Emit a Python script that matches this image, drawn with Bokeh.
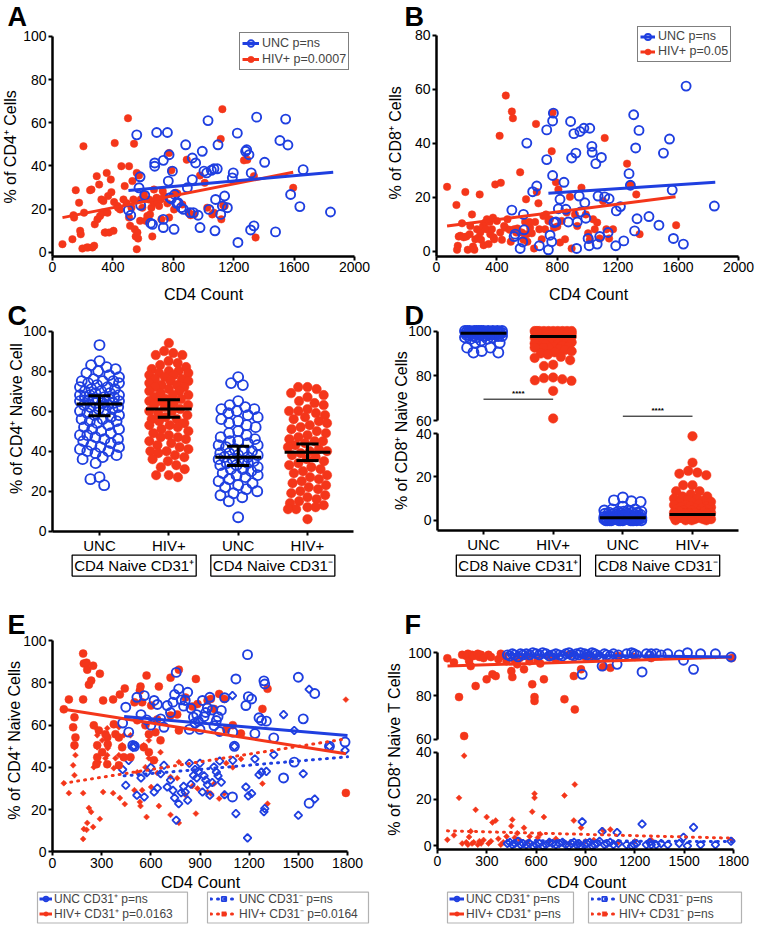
import numpy as np
from bokeh.plotting import figure
from bokeh.models import Range1d, LinearAxis, FixedTicker, Label, Legend, LegendItem, BoxAnnotation
from bokeh.core.properties import value
from bokeh.embed import file_html
from bokeh.resources import INLINE

# ======================= DATA =======================
# Panel A : % of CD4+ cells vs CD4 count
A_unc_cd4 = [503, 518, 558, 580, 573, 584, 611, 650, 662, 677, 677, 690, 734, 734, 734, 761, 767, 772, 778, 787,
             794, 805, 809, 822, 831, 853, 867, 882, 893, 911, 926, 926, 933, 948, 964, 977, 992, 1003, 1021, 1030,
             1036, 1052, 1069, 1076, 1080, 1091, 1096, 1114, 1125, 1140, 1158, 1191, 1197, 1224, 1228, 1279, 1286,
             1301, 1312, 1316, 1334, 1352, 1405, 1477, 1506, 1544, 1559, 1577, 1638, 1660, 1841]
A_unc_pct = [19.6, 17.2, 54.4, 35.0, 29.9, 21.8, 26.4, 13.5, 13.0, 41.4, 39.9, 55.5, 42.6, 15.3, 11.5, 55.5, 33.0,
             45.2, 25.3, 24.8, 37.6, 10.7, 26.8, 22.7, 23.0, 20.7, 19.9, 49.8, 29.9, 18.4, 43.7, 33.7, 18.4, 41.4,
             17.2, 11.5, 46.8, 37.6, 36.8, 61.0, 19.9, 38.0, 38.7, 10.0, 24.5, 38.7, 49.8, 17.6, 21.5, 26.1, 20.7,
             34.5, 36.8, 55.2, 4.6, 46.8, 47.5, 45.2, 10.4, 36.8, 12.3, 62.6, 41.7, 9.5, 51.8, 61.7, 49.7, 26.8,
             21.2, 38.3, 18.7]
A_hiv_cd4 = [66, 132, 139, 143, 154, 176, 183, 187, 198, 205, 209, 227, 236, 249, 258, 265, 276, 280, 293, 298,
             309, 315, 324, 331, 337, 346, 353, 359, 364, 368, 375, 386, 390, 404, 408, 412, 430, 434, 448, 456,
             470, 478, 492, 500, 507, 507, 514, 523, 529, 536, 540, 545, 551, 558, 562, 567, 558, 573, 580, 584,
             595, 606, 611, 617, 628, 639, 646, 655, 661, 668, 672, 677, 686, 690, 695, 706, 717, 721, 730, 739,
             761, 772, 772, 787, 805, 816, 827, 860, 889, 904, 915, 937, 977, 1008, 1025, 1058, 1069, 1118, 1125,
             1114, 1131, 1140, 1268, 1290, 1334, 1345, 1594]
A_hiv_pct = [3.8, 6.1, 17.2, 16.1, 28.8, 23.0, 10.0, 8.4, 1.8, 49.1, 18.4, 2.3, 2.3, 28.8, 29.1, 2.3, 3.1, 13.0,
             35.3, 15.3, 31.4, 16.9, 24.5, 18.4, 23.8, 9.2, 9.2, 36.8, 18.4, 26.1, 9.2, 33.7, 27.9, 10.0, 23.3,
             50.6, 21.5, 20.7, 19.9, 39.9, 24.5, 30.7, 22.7, 62.1, 16.1, 39.9, 12.3, 20.7, 33.0, 24.5, 50.3, 10.7,
             7.4, 36.8, 9.2, 6.4, 1.5, 35.6, 14.6, 24.5, 20.7, 26.8, 24.8, 14.6, 16.9, 24.5, 17.6, 20.7, 7.4, 23.3,
             29.1, 23.0, 24.8, 25.3, 23.0, 21.5, 24.5, 15.3, 28.4, 26.1, 22.7, 16.1, 46.0, 38.0, 19.9, 27.6, 27.3,
             22.2, 42.9, 18.4, 17.2, 17.6, 35.6, 32.2, 20.7, 17.6, 18.4, 15.3, 66.3, 52.5, 21.8, 21.5, 42.6, 42.9,
             35.3, 6.9, 29.9]
A_unc_fit_x = [503, 1859]
A_unc_fit_y = [28.7, 37.1]
A_hiv_fit_x = [66, 1594]
A_hiv_fit_y = [16.1, 37.1]
A_xticks = [0, 400, 800, 1200, 1600, 2000]
A_yticks = [0, 20, 40, 60, 80, 100]

# Panel B : % of CD8+ cells vs CD4 count
B_unc_cd4 = [499, 514, 521, 554, 571, 576, 580, 598, 637, 664, 681, 730, 730, 741, 752, 763, 769, 769, 774, 778,
             791, 807, 818, 844, 857, 873, 888, 895, 910, 923, 928, 932, 945, 950, 954, 976, 982, 989, 1004, 1011,
             1015, 1029, 1031, 1055, 1064, 1070, 1081, 1092, 1114, 1136, 1143, 1187, 1191, 1218, 1240, 1275, 1284,
             1306, 1312, 1319, 1328, 1341, 1407, 1473, 1503, 1543, 1561, 1569, 1635, 1653, 1840]
B_unc_pct = [15.3, 5.5, 6.4, 1.1, 3.5, 13.7, 8.0, 40.1, 22.1, 24.2, 2.1, 34.0, 45.0, 0.6, 6.0, 3.6, 48.3, 28.1,
             51.2, 10.7, 10.9, 15.8, 19.3, 25.6, 15.6, 10.9, 48.1, 34.6, 43.6, 36.4, 1.1, 10.9, 20.5, 44.4, 14.6,
             45.6, 18.0, 12.3, 4.8, 2.1, 45.6, 38.9, 36.7, 32.5, 2.7, 20.5, 5.5, 34.8, 20.2, 7.0, 19.5, 2.1, 15.0,
             16.6, 3.9, 28.8, 24.5, 50.6, 7.6, 38.3, 12.1, 44.8, 12.9, 9.7, 36.4, 41.6, 22.7, 4.8, 2.7, 61.2, 16.8]
B_hiv_cd4 = [70, 132, 136, 141, 147, 158, 169, 180, 191, 198, 207, 220, 224, 235, 242, 251, 257, 268, 279, 286,
             290, 295, 308, 312, 323, 330, 334, 345, 352, 356, 367, 374, 378, 382, 389, 400, 418, 422, 426, 433,
             448, 455, 459, 470, 484, 492, 499, 506, 514, 528, 536, 554, 565, 576, 587, 593, 598, 602, 615, 620,
             631, 646, 653, 659, 664, 675, 681, 697, 708, 719, 725, 741, 752, 763, 769, 778, 791, 800, 807, 818,
             829, 851, 862, 884, 895, 917, 932, 960, 989, 1004, 1015, 1037, 1048, 1064, 1081, 1103, 1114, 1125,
             1143, 1169, 1262, 1284, 1323, 1345, 1587]
B_hiv_pct = [23.9, 17.2, 0.6, 2.1, 5.5, 5.8, 10.4, 5.2, 22.0, 5.5, 0.6, 6.4, 9.4, 13.7, 1.8, 0.6, 4.5, 8.2, 5.2,
             21.1, 7.0, 4.3, 9.4, 2.3, 10.7, 8.2, 11.9, 2.7, 10.9, 6.4, 8.2, 12.5, 5.2, 4.5, 24.8, 11.3, 42.8, 7.0,
             25.4, 4.3, 9.4, 8.8, 57.7, 11.9, 8.0, 3.6, 51.8, 49.3, 8.2, 7.0, 8.5, 29.3, 7.0, 4.3, 10.9, 19.3, 6.4,
             3.6, 10.9, 8.8, 6.7, 1.1, 10.9, 47.2, 22.0, 17.8, 8.2, 4.5, 13.1, 8.2, 13.7, 11.3, 11.9, 37.1, 51.4,
             8.8, 25.6, 9.2, 22.9, 3.3, 11.3, 4.5, 14.4, 20.2, 1.1, 13.7, 9.4, 23.6, 13.7, 6.7, 4.3, 11.9, 8.2,
             10.7, 4.8, 18.7, 42.0, 8.2, 4.8, 8.2, 32.5, 24.8, 21.1, 6.4, 9.7]
B_unc_fit_x = [741, 1846]
B_unc_fit_y = [21.5, 25.6]
B_hiv_fit_x = [70, 1583]
B_hiv_fit_y = [9.4, 20.2]
B_xticks = [0, 400, 800, 1200, 1600, 2000]
B_yticks = [0, 20, 40, 60, 80]

# Panel C : % of CD4+ naive cells by group
C_groups = ["UNC", "HIV+", "UNC", "HIV+"]
C_boxes = ["CD4 Naive CD31\u207a", "CD4 Naive CD31\u207b"]
C_unc_pos = [93, 85, 83, 82, 81, 80, 79, 78, 77, 76, 75, 75, 75, 74, 74, 73, 72, 72, 71, 71, 70, 70, 69, 69, 68,
             68, 68, 67, 67, 67, 66, 66, 66, 65, 65, 65, 64, 64, 64, 63, 63, 62, 62, 61, 61, 60, 60, 59, 58, 58,
             57, 56, 56, 55, 55, 54, 53, 52, 51, 51, 50, 49, 48, 48, 47, 46, 46, 45, 44, 43, 42, 42, 41, 40, 40,
             39, 38, 37, 36, 34, 27, 26, 23]
C_hiv_pos = [94, 90, 89, 88, 88, 85, 84, 83, 82, 81, 80, 80, 79, 79, 78, 78, 77, 76, 76, 75, 75, 74, 73, 73, 72,
             72, 71, 70, 70, 69, 68, 68, 67, 66, 66, 65, 65, 64, 63, 63, 62, 61, 60, 60, 59, 58, 57, 56, 56, 55,
             54, 53, 53, 52, 51, 50, 49, 48, 47, 47, 46, 45, 44, 43, 42, 41, 40, 40, 39, 38, 37, 36, 35, 33, 32,
             31, 28, 28, 27]
C_unc_neg = [77, 74, 73, 65, 63, 62, 61, 61, 60, 59, 58, 57, 56, 55, 54, 53, 52, 50, 49, 48, 47, 46, 45, 45, 44,
             43, 43, 42, 41, 40, 40, 39, 39, 38, 38, 37, 37, 36, 36, 35, 35, 34, 34, 33, 33, 32, 31, 31, 30, 29,
             28, 28, 27, 26, 25, 24, 23, 22, 21, 20, 19, 18, 17, 15, 7]
C_hiv_neg = [72, 72, 71, 69, 68, 67, 65, 64, 63, 61, 60, 60, 59, 58, 57, 56, 55, 54, 53, 52, 51, 50, 49, 48, 47,
             46, 45, 45, 44, 43, 42, 41, 40, 40, 39, 38, 37, 36, 35, 34, 33, 32, 31, 30, 29, 28, 27, 26, 25, 24,
             23, 22, 21, 20, 19, 18, 17, 16, 15, 14, 13, 12, 12, 11, 11, 6]
C_mean = [63.5, 61.0, 37.0, 39.5]
C_ci_lo = [57.7, 56.9, 32.8, 35.3]
C_ci_hi = [67.7, 65.7, 42.5, 43.6]
C_yticks = [0, 20, 40, 60, 80, 100]

# Panel D : % of CD8+ naive cells by group (broken axis)
D_groups = ["UNC", "HIV+", "UNC", "HIV+"]
D_boxes = ["CD8 Naive CD31\u207a", "CD8 Naive CD31\u207b"]
D_unc_pos = [100, 100, 100, 100, 100, 100, 100, 100, 100, 100, 100, 100, 99.6, 99.6, 99.6, 99.6, 99.6, 99.6,
             99.6, 99.6, 99.2, 99.2, 99.2, 99.2, 99.2, 99.2, 99.2, 99.2, 99.2, 99.2, 98.8, 98.8, 98.8, 98.8, 98.8,
             98.8, 98.3, 98.3, 98.3, 98.3, 98.3, 98.3, 97.8, 97.8, 97.8, 97.8, 97.2, 97.2, 97.2, 96.5, 96.5, 95.8,
             94.8, 94.8, 92.6, 92.6, 91.1, 90.4, 90.4]
D_hiv_pos = [100, 100, 100, 100, 100, 100, 100, 100, 100, 100, 99.5, 99.5, 99.5, 99.5, 99.5, 99.5, 99.5, 99.5,
             99, 99, 99, 99, 99, 99, 99, 99, 98.5, 98.5, 98.5, 98.5, 98.5, 98.5, 98, 98, 98, 98, 98, 98, 97.5,
             97.5, 97.5, 97.5, 97.5, 97, 97, 97, 97, 96.5, 96.5, 96.5, 96.5, 96, 96, 96, 95.5, 95.5, 95.5, 95, 95,
             95, 94.5, 94.5, 94, 94, 93.5, 93, 93, 92.6, 92.6, 92.6, 92.6, 92, 91.5, 91, 90.5, 90, 89.5, 88.5, 88,
             87, 85, 84.4, 79.3, 79, 78.5, 78, 77.8, 73.3, 61]
D_unc_neg = [0, 0, 0, 0, 0, 0, 0, 0, 0, 0, 0, 0, 0.5, 0.5, 0.5, 0.5, 0.5, 0.5, 0.5, 0.5, 0.5, 0.5, 1, 1, 1, 1, 1,
             1, 1, 1, 1, 1, 1.5, 1.5, 1.5, 1.5, 1.5, 1.5, 1.5, 1.5, 2, 2, 2, 2, 2, 2, 2.5, 2.5, 2.5, 2.5, 2.5, 3,
             3, 3, 3, 3.5, 3.5, 3.5, 4, 4, 4, 4.5, 4.5, 5, 5, 6.2, 8.5, 8.8, 9.2, 10.5]
D_hiv_neg = [38.8, 26.6, 22.8, 22, 21.5, 20.8, 16.2, 16.2, 13.4, 13.4, 12, 11, 11, 10, 10, 9.5, 9, 8.5, 8, 8, 7.5,
             7, 7, 6.5, 6.5, 6, 6, 5.5, 5.5, 5, 5, 5, 4.5, 4.5, 4, 4, 4, 3.5, 3.5, 3.5, 3, 3, 3, 2.5, 2.5, 2.5, 2,
             2, 2, 2, 1.5, 1.5, 1.5, 1, 1, 1, 1, 0.5, 0.5, 0.5, 0, 0, 0, 0]
D_median = [99.0, 97.6, 1.1, 2.6]
D_sig_x0 = [0, 2]
D_sig_x1 = [1, 3]
D_sig_y = [69.6, 62.0]
D_top_ticks = [60, 80, 100]
D_bot_ticks = [0, 20, 40]

# Panel E : % of CD4+ naive cells (CD31+ / CD31-) vs CD4 count
E_unc_cd4 = [428, 447, 465, 490, 500, 515, 540, 560, 575, 600, 620, 640, 660, 680, 700, 720, 735, 745, 755, 770,
             785, 800, 810, 825, 835, 845, 860, 870, 880, 890, 900, 915, 925, 935, 945, 960, 975, 985, 1000, 1010,
             1020, 1030, 1050, 1098, 1100, 1110, 1119, 1180, 1190, 1195, 1215, 1235, 1260, 1275, 1290, 1295, 1305,
             1350, 1410, 1475, 1500, 1530, 1566, 1600, 1690, 1785]
E_unc_pos = [61, 68.5, 56.7, 50.4, 50, 73.2, 65, 74, 62.5, 60, 71.7, 69.8, 63, 59, 69.3, 66, 70.9, 74.5, 85, 77.2,
             72, 69, 71.7, 75.6, 58, 68, 63.8, 61, 65, 61.9, 58, 71.7, 64, 66, 68.2, 73.2, 67.2, 59.8, 62.2, 64,
             57, 67, 73, 26, 56.7, 50, 81.9, 69.3, 93.4, 73.5, 72.4, 56, 63.5, 62.2, 81, 79.5, 61.9, 54, 35, 42.5,
             82.7, 63, 23, 75, 50, 52]
E_unc_neg = [39, 31.5, 43.3, 49.6, 50, 26.8, 35, 26, 37.5, 40, 28.3, 30.2, 37, 41, 30.7, 34, 29.1, 25.5, 15, 22.8,
             28, 31, 28.3, 24.4, 42, 32, 36.2, 39, 35, 38.1, 42, 28.3, 36, 34, 31.8, 26.8, 32.8, 40.2, 37.8, 36,
             43, 33, 27, 74, 43.3, 50, 18.1, 30.7, 6.6, 26.5, 27.6, 44, 36.5, 37.8, 19, 20.5, 38.1, 46, 65, 57.5,
             17.3, 37, 77, 25, 50, 48]
E_hiv_cd4 = [69, 100, 126, 134, 134, 140, 187, 187, 191, 208, 212, 222, 236, 248, 252, 268, 273, 273, 283, 289,
             303, 309, 323, 334, 334, 337, 370, 374, 384, 405, 405, 411, 425, 435, 441, 476, 500, 517, 533, 537,
             547, 557, 567, 574, 588, 588, 602, 618, 628, 639, 649, 659, 720, 720, 761, 771, 771, 811, 854, 875,
             885, 946, 966, 986, 1017, 1048, 1060, 1100, 1150, 1281, 1312, 1790]
E_hiv_pos = [67.5, 72.2, 59, 63.7, 50.5, 54.2, 93.9, 72.2, 89.2, 89.6, 86.3, 79.2, 81.1, 88.2, 59.9, 41.5, 50.5,
             44.8, 57.5, 84.4, 47.2, 71.7, 55.7, 54.2, 41.5, 50.9, 72.2, 60.4, 55.7, 54.2, 41, 74.5, 49.5, 44.8,
             77.4, 44.8, 70.8, 62.3, 76.4, 78.3, 70.8, 49.5, 59.9, 83.5, 55.7, 47.2, 69.3, 43.4, 56.6, 62.7, 78.3,
             52.8, 82.5, 64.6, 65.1, 86.3, 57.5, 73.1, 68.8, 81.9, 70, 71.7, 72.4, 67.7, 74.8, 72.4, 58, 60, 56,
             67.7, 77.2, 27.9]
E_hiv_neg = [32.5, 27.8, 41, 36.3, 49.5, 45.8, 6.1, 27.8, 10.8, 10.4, 13.7, 20.8, 18.9, 11.8, 40.1, 58.5, 49.5,
             55.2, 42.5, 15.6, 52.8, 28.3, 44.3, 45.8, 58.5, 49.1, 27.8, 39.6, 44.3, 45.8, 59, 25.5, 50.5, 55.2,
             22.6, 55.2, 29.2, 37.7, 23.6, 21.7, 29.2, 50.5, 40.1, 16.5, 44.3, 52.8, 30.7, 56.6, 43.4, 37.3, 21.7,
             47.2, 17.5, 35.4, 34.9, 13.7, 42.5, 26.9, 31.2, 18.1, 30, 28.3, 27.6, 32.3, 25.2, 27.6, 42, 40, 44,
             32.3, 22.8, 72.1]
E_unc_pos_fit_x = [437, 1800]
E_unc_pos_fit_y = [64.1, 55.1]
E_hiv_pos_fit_x = [69, 1790]
E_hiv_pos_fit_y = [67.5, 46.5]
E_unc_neg_fit_x = [437, 1800]
E_unc_neg_fit_y = [36.0, 45.0]
E_hiv_neg_fit_x = [69, 1790]
E_hiv_neg_fit_y = [32.5, 53.5]
E_xticks = [0, 300, 600, 900, 1200, 1500, 1800]
E_yticks = [0, 20, 40, 60, 80, 100]

# Panel F : % of CD8+ naive T cells (CD31+ / CD31-) vs CD4 count (broken axis)
F_unc_cd4 = [425, 440, 455, 470, 490, 505, 520, 540, 560, 580, 600, 620, 640, 660, 680, 700, 720, 740, 760, 780,
             800, 815, 830, 845, 860, 870, 880, 895, 910, 925, 940, 955, 970, 985, 1001, 1015, 1030, 1050, 1070,
             1092, 1100, 1150, 1180, 1195, 1210, 1244, 1270, 1290, 1300, 1330, 1360, 1400, 1470, 1496, 1520, 1557,
             1600, 1690, 1785]
F_unc_pos = [99, 98.5, 99.5, 99, 98, 99.5, 99, 99.5, 99, 100, 99.5, 99, 100, 99.5, 98.5, 99, 99.5, 99, 98.5, 99.5,
             100, 99, 98.5, 99.5, 99, 100, 90, 99.5, 99, 98.5, 100, 99.5, 99, 98, 93.8, 99.5, 99, 98.5, 99.5, 94.6,
             99, 99.5, 100, 99.5, 99, 91.1, 99.5, 98.5, 99.5, 99.5, 99, 99.5, 99, 96.5, 100, 92.3, 99.5, 99.5, 98]
F_unc_neg = [1, 1.5, 0.5, 1, 2, 0.5, 1, 0.5, 1, 0, 0.5, 1, 0, 0.5, 1.5, 1, 0.5, 1, 1.5, 0.5, 0, 1, 1.5, 0.5, 1, 0,
             10.3, 0.5, 1, 1.5, 0, 0.5, 1, 2, 6.1, 0.5, 1, 1.5, 0.5, 5.7, 1, 0.5, 0, 0.5, 1, 9.3, 0.5, 1.5, 0.5,
             0.5, 1, 0.5, 1, 3.7, 0, 7.9, 0.5, 0.5, 2]
F_hiv_cd4 = [60, 100, 131, 150, 162, 175, 185, 192, 202, 210, 220, 232, 245, 255, 265, 280, 299, 310, 325, 334,
             354, 370, 385, 400, 420, 449, 455, 470, 485, 500, 526, 545, 560, 576, 590, 590, 610, 625, 647, 680,
             720, 772, 800, 829, 835, 873, 900, 950, 1007, 1051, 1100, 1200, 1300, 1790]
F_hiv_pos = [97.4, 95.5, 79.5, 99, 61.5, 98.5, 99.5, 96.2, 93.8, 99, 98.5, 84.6, 99.5, 98, 99, 97.5, 87.7, 99, 98,
             90, 89.2, 97, 99.5, 98.5, 96, 91.5, 88.8, 96.5, 94.6, 97.5, 92.3, 98.5, 96, 85.4, 79.5, 77.7, 96.5, 95,
             87.7, 98, 97, 78.5, 99, 89.2, 73.8, 92.3, 98, 97.5, 93.4, 93, 98.5, 98, 97.5, 97.5]
F_hiv_neg = [2.6, 4.5, 20.5, 1, 38.5, 1.5, 0.5, 3.8, 6.2, 1, 1.5, 15.4, 0.5, 2, 1, 2.5, 12.3, 1, 2, 10, 10.8, 3,
             0.5, 1.5, 4, 8.5, 11.2, 3.5, 5.4, 2.5, 7.7, 1.5, 4, 14.6, 20.5, 22.3, 3.5, 5, 12.3, 2, 3, 21.5, 1,
             10.8, 26.2, 7.7, 2, 2.5, 6.6, 7, 1.5, 2, 2.5, 2.5]
F_unc_pos_fit_x = [425, 1790]
F_unc_pos_fit_y = [99.2, 98.0]
F_hiv_pos_fit_x = [61, 1780]
F_hiv_pos_fit_y = [93.8, 98.0]
F_unc_neg_fit_x = [425, 1790]
F_unc_neg_fit_y = [2.3, 1.8]
F_hiv_neg_fit_x = [61, 1780]
F_hiv_neg_fit_y = [6.4, 3.3]
F_xticks = [0, 300, 600, 900, 1200, 1500, 1800]

# ======================= STYLE / LAYOUT =======================
FONT = "Liberation Sans"
BLUE = "#1f3fe0"
RED = "#f4361a"
FW, FH = 755, 924                # figure size in screen pixels
REF_W, REF_H = 755, 928          # layout units covered by the figure

p = figure(width=FW, height=FH, output_backend="svg", toolbar_location=None,
           x_range=Range1d(0, REF_W), y_range=Range1d(REF_H, 0),
           x_axis_location=None, y_axis_location=None, min_border=0)
p.outline_line_color = None
p.grid.visible = False
p.background_fill_color = "white"

XR, YR = {}, {}


def xmap(name, p0, v0, p1, v1):
    s = (v1 - v0) / (p1 - p0)
    XR[name] = Range1d(start=v0 - p0 * s, end=v0 + (REF_W - p0) * s)
    return lambda px: v0 + (px - p0) * s


def ymap(name, p0, v0, p1, v1):
    s = (v1 - v0) / (p1 - p0)
    YR[name] = Range1d(start=v0 + (REF_H - p0) * s, end=v0 - p0 * s)
    return lambda py: v0 + (py - p0) * s


def axis(side, xn, yn, loc, bounds, ticks, labels=None, fs="14px"):
    ax = LinearAxis(x_range_name=xn, y_range_name=yn, fixed_location=loc, bounds=bounds,
                    ticker=FixedTicker(ticks=ticks, minor_ticks=[]))
    ax.axis_line_width = 2.5
    ax.axis_line_color = "black"
    ax.major_tick_line_width = 2
    ax.major_tick_line_color = "black"
    ax.major_tick_out = 4
    ax.major_tick_in = 0
    ax.minor_tick_line_color = None
    ax.major_label_text_font = FONT
    ax.major_label_text_font_size = fs
    ax.major_label_text_color = "black"
    ax.major_label_standoff = 2
    if labels is not None:
        ax.major_label_overrides = labels
    p.add_layout(ax, side)


def text(x, y, s, size="16px", angle=0.0, align="center", baseline="middle", bold=False,
         xn="default", yn="default", box=False):
    kw = {}
    if box:
        kw = dict(border_line_color="black", border_line_width=1.3, background_fill_color="white", padding=2)
    p.add_layout(Label(x=x, y=y, text=s, x_range_name=xn, y_range_name=yn, text_font=FONT,
                       text_font_size=size, angle=angle, text_align=align, text_baseline=baseline,
                       text_font_style="bold" if bold else "normal", text_color="black", **kw))


def legend(items, left, bottom, glyph_w, glyph_h, spacing, padding=2):
    leg = Legend(items=[LegendItem(label=value(l), renderers=r) for l, r in items],
                 location=(left * FW / REF_W, (REF_H - bottom) * FH / REF_H),
                 orientation="vertical", border_line_color="black", border_line_width=1.2,
                 background_fill_color="white", background_fill_alpha=1.0,
                 padding=padding, spacing=spacing, margin=0, label_text_font=FONT,
                 label_text_font_size="12.5px", label_standoff=3,
                 glyph_width=glyph_w, glyph_height=glyph_h, label_height=12)
    p.add_layout(leg)


def tight_legend(items, box_lr, box_tb, glyph_left, glyph_w, row_centers, row_h=14):
    # framed box with closely spaced rows: one borderless legend per row inside a box
    p.add_layout(BoxAnnotation(left=box_lr[0], right=box_lr[1], top=box_tb[0], bottom=box_tb[1],
                               fill_color="white", fill_alpha=1.0, line_color="black", line_width=1.2))
    for (lab, rs), c in zip(items, row_centers):
        leg = Legend(items=[LegendItem(label=value(lab), renderers=rs)],
                     location=(glyph_left * FW / REF_W, (REF_H - (c + row_h / 2)) * FH / REF_H),
                     border_line_color=None, background_fill_alpha=0.0, padding=0, spacing=0, margin=0,
                     label_text_font=FONT, label_text_font_size="12px", label_standoff=2,
                     glyph_width=glyph_w, glyph_height=11, label_height=11)
        p.add_layout(leg)


def swarm(vals, center, y_px, x_px, d, half_w):
    v = np.asarray(vals, dtype=float)
    order = np.argsort(-v, kind="stable")
    pxs, pys = [], []
    out = np.zeros(len(v))
    grid = np.linspace(-half_w, half_w, 49)
    for i in order:
        y = v[i] * y_px
        ax_ = np.array(pxs)
        ay_ = np.array(pys)
        if len(ax_):
            m = np.abs(ay_ - y) < d
            nx, ny = ax_[m], ay_[m]
        else:
            nx, ny = np.array([]), np.array([])
        cands = [0.0]
        for a, b in zip(nx, ny):
            dx = np.sqrt(max(d * d - (b - y) ** 2, 0.0))
            cands += [a - dx, a + dx]
        cands.sort(key=abs)
        chosen = None
        for c in cands:
            if abs(c) > half_w + 1e-6:
                continue
            if len(nx) == 0 or np.all((c - nx) ** 2 + (y - ny) ** 2 >= d * d - 1e-6):
                chosen = c
                break
        if chosen is None:
            dist = np.array([np.min((g - nx) ** 2 + (y - ny) ** 2) for g in grid])
            chosen = grid[int(np.argmax(dist))]
        pxs.append(chosen)
        pys.append(y)
        out[i] = center + chosen / x_px
    return out


def open_c(x, y, xn, yn, size=9):
    return p.scatter(x, y, x_range_name=xn, y_range_name=yn, marker="circle", size=size,
                     fill_color=None, line_color=BLUE, line_width=1.9)


def fill_c(x, y, xn, yn, size=8):
    return p.scatter(x, y, x_range_name=xn, y_range_name=yn, marker="circle", size=size,
                     fill_color=RED, line_color=RED, line_width=0.5)


def open_d(x, y, xn, yn):
    return p.scatter(x, y, x_range_name=xn, y_range_name=yn, marker="square", angle=np.pi / 4, size=5.5,
                     fill_color=None, line_color=BLUE, line_width=1.8)


def fill_d(x, y, xn, yn):
    return p.scatter(x, y, x_range_name=xn, y_range_name=yn, marker="square", angle=np.pi / 4, size=4.2,
                     fill_color=RED, line_color=RED, line_width=0.5)


def fit(x, y, xn, yn, color, dotted=False):
    kw = dict(line_dash="1 6", line_cap="round") if dotted else {}
    return p.line(x, y, x_range_name=xn, y_range_name=yn, line_color=color, line_width=3, **kw)


# ---------------- Panel A ----------------
axA = xmap("Ax", 52, 0, 354, 2000)
ayA = ymap("Ay", 253, 0, 36, 100)
rAh = fill_c(A_hiv_cd4, A_hiv_pct, "Ax", "Ay", 7.5)
rAu = open_c(A_unc_cd4, A_unc_pct, "Ax", "Ay", 9)
lAh = fit(A_hiv_fit_x, A_hiv_fit_y, "Ax", "Ay", RED)
lAu = fit(A_unc_fit_x, A_unc_fit_y, "Ax", "Ay", BLUE)
axis("below", "Ax", "Ay", ayA(257), (0, 2000), A_xticks)
axis("left", "Ax", "Ay", 0, (ayA(257), 100), A_yticks)
legend([("UNC p=ns", [lAu, rAu]), ("HIV+ p=0.0007", [lAh, rAh])], 239, 70, 17, 16, 0)
text(7, 2, "A", size="27px", align="left", baseline="top", bold=True)
text(10, 147, "% of CD4\u207a Cells", angle=np.pi / 2)
text(203, 295, "CD4 Count")

# ---------------- Panel B ----------------
axB = xmap("Bx", 436, 0, 738, 2000)
ayB = ymap("By", 252, 0, 35, 80)
rBh = fill_c(B_hiv_cd4, B_hiv_pct, "Bx", "By", 7.5)
rBu = open_c(B_unc_cd4, B_unc_pct, "Bx", "By", 9)
lBh = fit(B_hiv_fit_x, B_hiv_fit_y, "Bx", "By", RED)
lBu = fit(B_unc_fit_x, B_unc_fit_y, "Bx", "By", BLUE)
axis("below", "Bx", "By", ayB(257), (0, 2000), B_xticks)
axis("left", "Bx", "By", 0, (ayB(257), 80), B_yticks)
legend([("UNC p=ns", [lBu, rBu]), ("HIV+ p=0.05", [lBh, rBh])], 637, 62, 15, 15, -1)
text(404, 2, "B", size="27px", align="left", baseline="top", bold=True)
text(395, 143, "% of CD8\u207a Cells", angle=np.pi / 2)
text(588, 295, "CD4 Count")

# ---------------- Panel C ----------------
axC = xmap("Cx", 99, 0, 307, 3)
ayC = ymap("Cy", 533, 0, 332, 100)
C_ypx = (533 - 332) / 100.0
C_xpx = (307 - 99) / 3.0
C_series = [C_unc_pos, C_hiv_pos, C_unc_neg, C_hiv_neg]
for gi, vals in enumerate(C_series):
    xs = swarm(vals, gi, C_ypx, C_xpx, 9.3, 19.5)
    if gi % 2 == 0:
        open_c(xs, vals, "Cx", "Cy", 10)
    else:
        fill_c(xs, vals, "Cx", "Cy", 9.5)
C_pos = np.arange(len(C_groups))
p.segment(x0=C_pos - 0.33, x1=C_pos + 0.33, y0=C_mean, y1=C_mean, x_range_name="Cx", y_range_name="Cy",
          line_color="black", line_width=3)
p.segment(x0=C_pos, x1=C_pos, y0=C_ci_lo, y1=C_ci_hi, x_range_name="Cx", y_range_name="Cy",
          line_color="black", line_width=3)
p.segment(x0=C_pos - 0.16, x1=C_pos + 0.16, y0=C_ci_lo, y1=C_ci_lo, x_range_name="Cx", y_range_name="Cy",
          line_color="black", line_width=3)
p.segment(x0=C_pos - 0.16, x1=C_pos + 0.16, y0=C_ci_hi, y1=C_ci_hi, x_range_name="Cx", y_range_name="Cy",
          line_color="black", line_width=3)
axis("below", "Cx", "Cy", 0, (axC(52), axC(353)), list(range(len(C_groups))),
     {i: g for i, g in enumerate(C_groups)}, fs="15px")
axis("left", "Cx", "Cy", axC(52), (0, 100), C_yticks)
for bi, lab in enumerate(C_boxes):
    text(2 * bi + 0.5, 567.5, lab, size="15px", xn="Cx", box=True)
text(7, 302, "C", size="27px", align="left", baseline="top", bold=True)
text(16, 420, "% of CD4\u207a Naive Cell", angle=np.pi / 2)

# ---------------- Panel D ----------------
axD = xmap("Dx", 483, 0, 692, 3)
ayDt = ymap("Dt", 422, 60, 332, 100)
ayDb = ymap("Db", 522, 0, 435, 40)
D_xpx = (692 - 483) / 3.0
D_series = [(D_unc_pos, "Dt", (422 - 332) / 40.0), (D_hiv_pos, "Dt", (422 - 332) / 40.0),
            (D_unc_neg, "Db", (522 - 435) / 40.0), (D_hiv_neg, "Db", (522 - 435) / 40.0)]
for gi, (vals, yn, ypx) in enumerate(D_series):
    xs = swarm(vals, gi, ypx, D_xpx, 9.3, 18.5)
    if gi % 2 == 0:
        open_c(xs, vals, "Dx", yn, 10)
    else:
        fill_c(xs, vals, "Dx", yn, 9.5)
D_pos = np.arange(len(D_groups))
p.segment(x0=D_pos[:2] - 0.33, x1=D_pos[:2] + 0.33, y0=D_median[:2], y1=D_median[:2],
          x_range_name="Dx", y_range_name="Dt", line_color="black", line_width=3)
p.segment(x0=D_pos[2:] - 0.33, x1=D_pos[2:] + 0.33, y0=D_median[2:], y1=D_median[2:],
          x_range_name="Dx", y_range_name="Db", line_color="black", line_width=3)
p.segment(x0=D_sig_x0, x1=D_sig_x1, y0=D_sig_y, y1=D_sig_y, x_range_name="Dx", y_range_name="Dt",
          line_color="black", line_width=1)
for a, b, yy in zip(D_sig_x0, D_sig_x1, D_sig_y):
    text((a + b) / 2, yy + 0.6, "****", size="8px", baseline="bottom", bold=True, xn="Dx", yn="Dt")
axis("below", "Dx", "Db", ayDb(532), (axD(437), axD(738)), list(range(len(D_groups))),
     {i: g for i, g in enumerate(D_groups)}, fs="15px")
axis("left", "Dx", "Dt", axD(437), (60, 100), D_top_ticks)
axis("left", "Dx", "Db", axD(437), (ayDb(532), 40), D_bot_ticks)
for bi, lab in enumerate(D_boxes):
    text(2 * bi + 0.5, 567.5, lab, size="15px", xn="Dx", box=True)
text(404, 302, "D", size="27px", align="left", baseline="top", bold=True)
text(401, 432, "% of CD8\u207a Naive Cells", angle=np.pi / 2)

# ---------------- Panel E ----------------
axE = xmap("Ex", 52, 0, 347, 1800)
ayE = ymap("Ey", 855, 0, 643, 100)
rEhn = fill_d(E_hiv_cd4, E_hiv_neg, "Ex", "Ey")
rEun = open_d(E_unc_cd4, E_unc_neg, "Ex", "Ey")
rEhp = fill_c(E_hiv_cd4, E_hiv_pos, "Ex", "Ey", 8)
rEup = open_c(E_unc_cd4, E_unc_pos, "Ex", "Ey", 9)
lEhn = fit(E_hiv_neg_fit_x, E_hiv_neg_fit_y, "Ex", "Ey", RED, dotted=True)
lEun = fit(E_unc_neg_fit_x, E_unc_neg_fit_y, "Ex", "Ey", BLUE, dotted=True)
lEhp = fit(E_hiv_pos_fit_x, E_hiv_pos_fit_y, "Ex", "Ey", RED)
lEup = fit(E_unc_pos_fit_x, E_unc_pos_fit_y, "Ex", "Ey", BLUE)
axis("below", "Ex", "Ey", 0, (0, 1800), E_xticks)
axis("left", "Ex", "Ey", 0, (0, 100), E_yticks)
tight_legend([("UNC CD31\u207a p=ns", [lEup, rEup]), ("HIV+ CD31\u207a p=0.0163", [lEhp, rEhp])],
             (37, 187), (895.5, 926.5), 39, 13, (904, 918.5))
tight_legend([("UNC CD31\u207b p=ns", [lEun, rEun]), ("HIV+ CD31\u207b p=0.0164", [lEhn, rEhn])],
             (207, 368), (895.5, 926.5), 210, 27, (904, 918.5))
text(7, 612, "E", size="27px", align="left", baseline="top", bold=True)
text(14, 743, "% of CD4\u207a Naive Cells", angle=np.pi / 2)
text(200, 886, "CD4 Count")

# ---------------- Panel F ----------------
axF = xmap("Fx", 437, 0, 733, 1800)
ayFt = ymap("Ft", 742, 60, 655, 100)
ayFb = ymap("Fb", 849, 0, 755, 40)
rFhn = fill_d(F_hiv_cd4, F_hiv_neg, "Fx", "Fb")
rFun = open_d(F_unc_cd4, F_unc_neg, "Fx", "Fb")
rFhp = fill_c(F_hiv_cd4, F_hiv_pos, "Fx", "Ft", 8)
rFup = open_c(F_unc_cd4, F_unc_pos, "Fx", "Ft", 9)
lFhn = fit(F_hiv_neg_fit_x, F_hiv_neg_fit_y, "Fx", "Fb", RED, dotted=True)
lFun = fit(F_unc_neg_fit_x, F_unc_neg_fit_y, "Fx", "Fb", BLUE, dotted=True)
lFhp = fit(F_hiv_pos_fit_x, F_hiv_pos_fit_y, "Fx", "Ft", RED)
lFup = fit(F_unc_pos_fit_x, F_unc_pos_fit_y, "Fx", "Ft", BLUE)
axis("below", "Fx", "Fb", ayFb(853), (0, 1800), F_xticks)
axis("left", "Fx", "Ft", 0, (60, 100), D_top_ticks)
axis("left", "Fx", "Fb", 0, (ayFb(853), 40), D_bot_ticks)
tight_legend([("UNC CD31\u207a p=ns", [lFup, rFup]), ("HIV+ CD31\u207a p=ns", [lFhp, rFhp])],
             (447, 573), (895.5, 926.5), 449, 15, (904, 918.5))
tight_legend([("UNC CD31\u207b p=ns", [lFun, rFun]), ("HIV+ CD31\u207b p=ns", [lFhn, rFhn])],
             (588, 741), (895.5, 926.5), 591, 26, (904, 918.5))
text(404, 612, "F", size="27px", align="left", baseline="top", bold=True)
text(394, 752, "% of CD8\u207a Naive T Cells", angle=np.pi / 2)
text(586, 886, "CD4 Count")

p.extra_x_ranges = XR
p.extra_y_ranges = YR

open("out.html", "w").write(file_html(p, INLINE))
